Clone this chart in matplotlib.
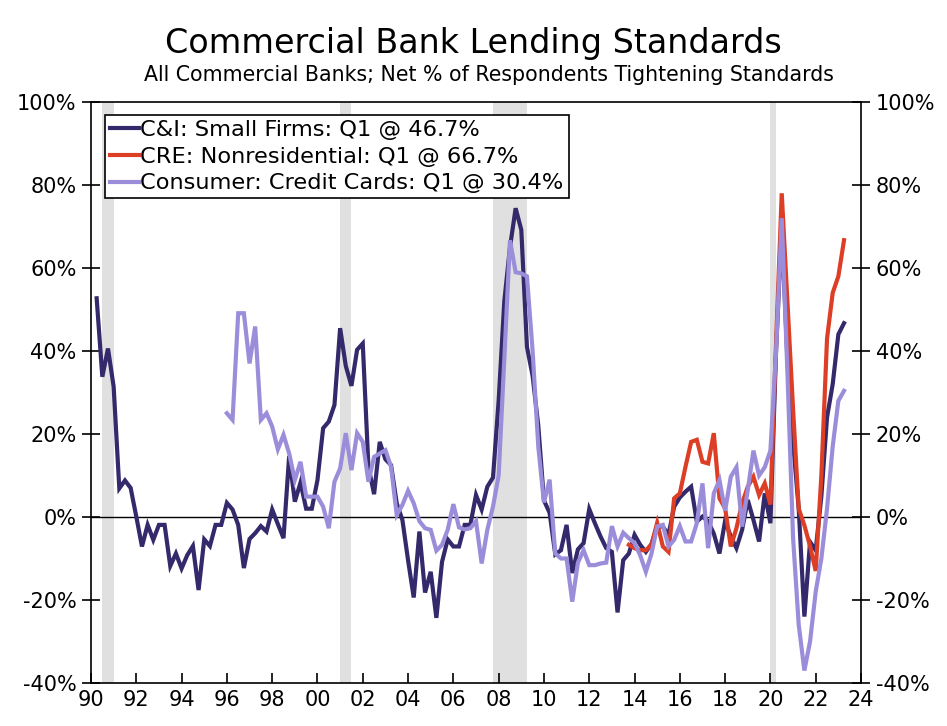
import numpy as np
import matplotlib
matplotlib.use("Agg")
import matplotlib.pyplot as plt

# quarterly survey values, 1990 Q2 .. 2023 Q2 (one row per year)
ci_small = [
    52.7, 33.8, 40.6,              # 1990
    31.4, 6.9, 8.8, 7.0,           # 1991
    0.1, -7.1, -1.9, -5.5,         # 1992
    -1.9, -1.9, -11.8, -8.8,       # 1993
    -12.4, -9.2, -7.0, -17.6,      # 1994
    -5.4, -7.0, -1.9, -1.9,        # 1995
    3.4, 1.8, -1.9, -12.3,         # 1996
    -5.3, -3.9, -2.2, -3.5,        # 1997
    1.8, -1.7, -5.1, 14.7,         # 1998
    3.7, 8.3, 2.0, 2.0,            # 1999
    8.9, 21.4, 23.0, 27.0,         # 2000
    45.5, 36.4, 31.6, 40.3,        # 2001
    41.8, 12.1, 5.5, 18.1,         # 2002
    13.9, 12.5, 3.3, -0.7,         # 2003
    -10.4, -19.4, -3.5, -18.2,     # 2004
    -13.2, -24.3, -10.8, -5.4,     # 2005
    -7.1, -7.1, -1.9, -1.9,        # 2006
    5.3, 1.8, 7.3, 9.5,            # 2007
    28.0, 52.0, 65.0, 74.4,        # 2008
    69.2, 41.0, 34.0, 22.0,        # 2009
    4.0, 1.0, -9.0, -8.0,          # 2010
    -1.9, -13.5, -7.8, -6.3,       # 2011
    1.9, -1.5, -4.7, -7.5,         # 2012
    -8.4, -23.0, -10.4, -8.8,      # 2013
    -4.3, -6.7, -8.4, -6.5,        # 2014
    -2.2, -2.3, -4.3, 2.5,         # 2015
    4.7, 6.1, 7.3, -1.1,           # 2016
    0.1, -1.0, -4.0, -8.8,         # 2017
    -0.9, -4.7, -7.5, -3.1,        # 2018
    4.1, -0.7, -5.9, 5.7,          # 2019
    -1.5, 40.0, 70.0, 38.0,        # 2020
    18.0, 2.0, -24.0, -6.0,        # 2021
    -8.0, 5.0, 24.0, 32.0,         # 2022
    44.0, 46.7,                    # 2023
]

nan = np.nan
cre_nonres = [nan] * 94 + [
    -6.7,                          # 2013
    -7.5, -8.0, -8.0, -6.7,        # 2014
    -1.4, -7.1, -8.4, 4.5,         # 2015
    5.7, 12.1, 18.1, 18.6,         # 2016
    13.3, 12.9, 20.2, 4.5,         # 2017
    2.1, -7.1, -2.7, 3.3,          # 2018
    7.3, 9.7, 5.3, 8.1,            # 2019
    3.0, 42.0, 78.0, 52.0,         # 2020
    26.0, 2.0, -2.0, -7.0,         # 2021
    -13.0, 10.0, 43.0, 54.0,       # 2022
    58.0, 66.7,                    # 2023
]

credit_cards = [nan] * 23 + [
    25.0, 23.4, 49.1, 49.1,        # 1996
    37.0, 45.9, 23.4, 25.0,        # 1997
    21.8, 16.3, 19.8, 15.3,        # 1998
    8.9, 13.3, 4.9, 4.9,           # 1999
    4.9, 2.5, -2.7, 8.5,           # 2000
    11.7, 20.2, 11.3, 20.2,        # 2001
    18.1, 8.5, 14.5, 15.3,         # 2002
    16.1, 12.1, 0.5, 2.9,          # 2003
    6.3, 3.3, -1.0, -2.7,          # 2004
    -3.1, -8.1, -6.7, -3.1,        # 2005
    3.1, -2.5, -3.0, -2.7,         # 2006
    -1.0, -11.2, -3.1, 2.5,        # 2007
    10.0, 38.0, 66.7, 59.0,        # 2008
    58.7, 58.0, 40.0, 17.0,        # 2009
    3.5, 9.0, -8.8, -10.0,         # 2010
    -10.0, -20.4, -11.0, -8.0,     # 2011
    -11.6, -11.6, -11.2, -11.0,    # 2012
    -2.2, -7.1, -3.8, -5.1,        # 2013
    -6.3, -9.2, -13.2, -8.8,       # 2014
    -2.3, -1.9, -7.1, -5.5,        # 2015
    -2.2, -5.9, -5.9, -1.5,        # 2016
    8.1, -7.5, 5.7, 8.9,           # 2017
    1.5, 9.7, 12.0, -2.3,          # 2018
    6.5, 16.0, 10.0, 12.0,         # 2019
    16.0, 40.0, 72.0, 35.0,        # 2020
    -5.0, -26.0, -37.0, -30.0,     # 2021
    -18.0, -10.0, 2.0, 17.0,       # 2022
    28.0, 30.4,                    # 2023
]

labels = ["C&I: Small Firms: Q1 @ 46.7%",
          "CRE: Nonresidential: Q1 @ 66.7%",
          "Consumer: Credit Cards: Q1 @ 30.4%"]
colors = ["#33296b", "#dc3e26", "#9c8ddb"]

# recessions (start, end) in decimal years
recessions = [(1990.5, 1991.0), (2001.0, 2001.5), (2007.75, 2009.25), (2020.0, 2020.25)]

dates = 1990.25 + 0.25 * np.arange(len(ci_small))

plt.rcParams["font.family"] = "DejaVu Sans"

fig = plt.figure(figsize=(9.47, 7.26), dpi=100)
ax = fig.add_axes([91 / 947, 1 - 683 / 726, 770 / 947, 581 / 726])

for a, b in recessions:
    ax.axvspan(a, b, color="#e0e0e0", lw=0, zorder=0)

ax.axhline(0, color="black", lw=1, zorder=1)

series = [ci_small, cre_nonres, credit_cards]
# draw cards first, then C&I, then CRE on top
for i in [2, 0, 1]:
    ax.plot(dates, series[i], color=colors[i], lw=3, label=labels[i], zorder=3 + i,
            solid_joinstyle="miter")

ax.set_xlim(1990, 2024)
ax.set_ylim(-40, 100)

ax.set_xticks(np.arange(1990, 2025, 2))
ax.set_xticklabels([f"{y % 100:02d}" for y in range(1990, 2025, 2)])
ax.set_yticks(np.arange(-40, 101, 20))
ax.set_yticklabels([f"{v}%" for v in range(-40, 101, 20)])

ax.tick_params(axis="x", direction="in", length=7, width=1.2, labelsize=15, pad=5)
ax.tick_params(axis="y", direction="inout", length=13, width=1.2, labelsize=15,
               right=True, labelright=True, pad=4)
for s in ax.spines.values():
    s.set_linewidth(1.2)

# legend in the order of the reference
h, l = ax.get_legend_handles_labels()
order = [l.index(x) for x in labels]
leg = ax.legend([h[i] for i in order], [l[i] for i in order], loc="upper left",
                bbox_to_anchor=(0.018, 0.9776), fontsize=16.2, frameon=True,
                fancybox=False, edgecolor="black", framealpha=1,
                handlelength=1.3, handletextpad=0.06, borderpad=0.22,
                labelspacing=0.3, borderaxespad=0)
leg.get_frame().set_linewidth(1.2)

fig.text(0.5, 1 - 43 / 726, "Commercial Bank Lending Standards", ha="center",
         va="center", fontsize=24)
fig.text(489 / 947, 1 - 75 / 726,
         "All Commercial Banks; Net % of Respondents Tightening Standards",
         ha="center", va="center", fontsize=14.8)

fig.savefig("out.png", dpi=100)
